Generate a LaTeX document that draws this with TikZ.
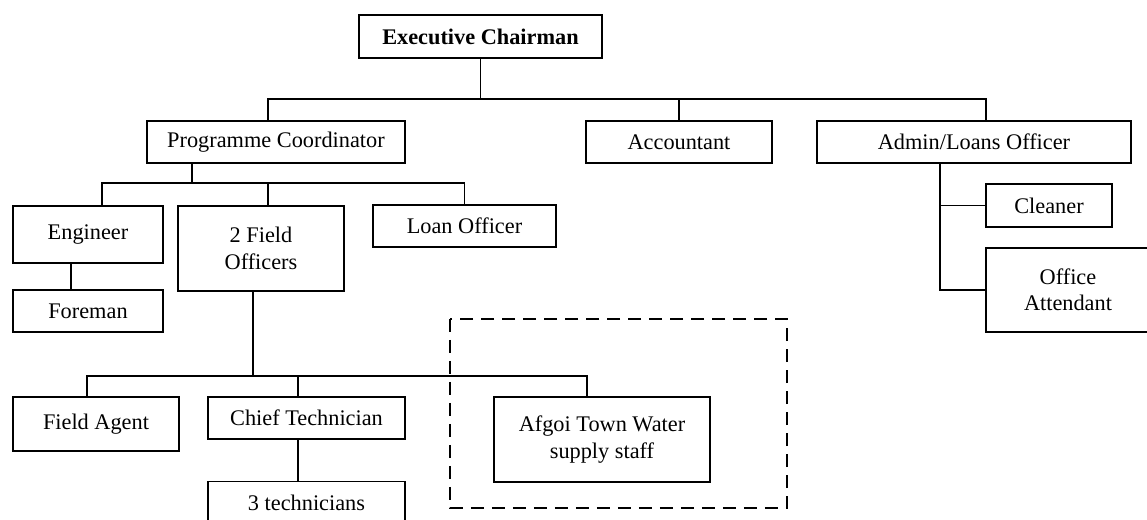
\documentclass[tikz,border=0pt]{standalone}
\usepackage{fontspec}
\setmainfont{Liberation Serif}

\begin{document}
\begin{tikzpicture}[x=0.02cm, y=-0.02cm, line width=0.8pt,
    every node/.style={font=\fontsize{12.7}{15}\selectfont},
    box/.style={draw, line width=0.8pt, align=center, inner sep=2pt}]
    \useasboundingbox (0,0) rectangle (1147,520);

    % Top level
    \node[box, minimum width=4.86cm, minimum height=0.86cm, font=\fontsize{12.7}{15}\selectfont\bfseries] (chair) at (480.5,36.5) {Executive Chairman};
    \node[box, minimum width=5.16cm, minimum height=0.84cm] (coord) at (276,142) {Programme Coordinator};
    \node[box, minimum width=3.72cm, minimum height=0.84cm] (acct) at (679,142) {Accountant};
    \node[box, minimum width=6.28cm, minimum height=0.84cm] (admin) at (974,142) {Admin/Loans Officer};

    % Admin side
    \node[box, minimum width=2.52cm, minimum height=0.86cm] (cleaner) at (1049,205.5) {Cleaner};
    \node[box, minimum width=3.28cm, minimum height=1.68cm] (attend) at (1068,290) {Office\\Attendant};

    % Programme side
    \node[box, minimum width=3.0cm, minimum height=1.14cm] (eng) at (88,234.5) {Engineer};
    \node[box, minimum width=3.32cm, minimum height=1.70cm] (fieldoff) at (261,248.5) {2 Field\\Officers};
    \node[box, minimum width=3.66cm, minimum height=0.84cm] (loanoff) at (464.5,226) {Loan Officer};
    \node[box, minimum width=3.0cm, minimum height=0.84cm] (foreman) at (88,311) {Foreman};

    % Field level
    \node[box, minimum width=3.32cm, minimum height=1.08cm] (agent) at (96,424) {Field Agent};
    \node[box, minimum width=3.94cm, minimum height=0.84cm] (chieftech) at (306.5,418) {Chief Technician};
    \node[box, minimum width=3.94cm, minimum height=0.86cm] (techs) at (306.5,503) {3 technicians};
    \node[box, minimum width=4.32cm, minimum height=1.70cm] (afgoi) at (602,439.5) {Afgoi Town Water\\supply staff};
    \draw[line width=1.4pt, dash pattern=on 0.26cm off 0.16cm] (450,319) rectangle (787,508);

    % Lines
    \coordinate (bus1) at (0,99);
    \draw (chair.south) -- (chair |- bus1);
    \draw ([xshift=-0.16cm]coord.north) |- ([xshift=0.24cm]admin.north |- bus1) -- ([xshift=0.24cm]admin.north);
    \draw (acct.north) -- (acct |- bus1);

    \coordinate (trunk) at (940,0);
    \draw (admin.south -| trunk) |- (attend.west);
    \draw (cleaner.west) -- (cleaner.west -| trunk);

    \coordinate (bus2) at (0,183);
    \draw ([xshift=-1.68cm]coord.south) -- ([xshift=-1.68cm]coord.south |- bus2);
    \draw ([xshift=0.28cm]eng.north) |- (loanoff |- bus2) -- (loanoff.north);
    \draw ([xshift=0.14cm]fieldoff.north) -- ([xshift=0.14cm]fieldoff.north |- bus2);
    \draw ([xshift=-0.34cm]eng.south) -- ([xshift=-0.34cm]foreman.north);

    \coordinate (bus3) at (0,376);
    \draw ([xshift=-0.16cm]fieldoff.south) -- ([xshift=-0.16cm]fieldoff.south |- bus3);
    \draw ([xshift=-0.18cm]agent.north) |- ([xshift=-0.3cm]afgoi.north |- bus3) -- ([xshift=-0.3cm]afgoi.north);
    \draw ([xshift=-0.17cm]chieftech.north) -- ([xshift=-0.17cm]chieftech.north |- bus3);
    \draw ([xshift=-0.17cm]chieftech.south) -- ([xshift=-0.17cm]techs.north);
\end{tikzpicture}
\end{document}
